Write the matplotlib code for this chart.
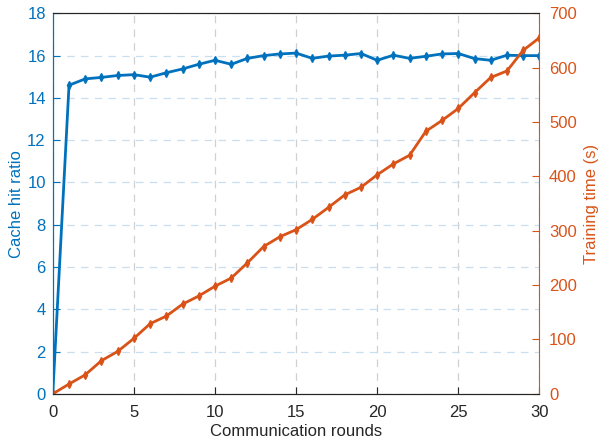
import matplotlib
matplotlib.use("Agg")
import matplotlib.pyplot as plt

plt.rcParams['font.family'] = ['Liberation Sans', 'DejaVu Sans']

rounds = list(range(31))
hit_ratio = [0, 14.6, 14.9, 14.97, 15.06, 15.1, 14.98, 15.19, 15.37, 15.59, 15.78,
             15.59, 15.87, 16.0, 16.08, 16.12, 15.87, 15.98, 16.02, 16.1, 15.78,
             16.02, 15.87, 15.97, 16.08, 16.1, 15.86, 15.78, 16.02, 16.0, 16.0]
train_time = [0, 18, 35, 61, 78, 102, 129, 143, 165, 180, 198,
              213, 241, 271, 289, 302, 321, 343, 366, 380, 403,
              423, 439, 483, 503, 525, 554, 582, 594, 632, 655]

blue = "#0072BD"
orange = "#D95319"

fig = plt.figure(figsize=(6, 4.45), dpi=100)
ax = fig.add_axes([0.088, 0.115, 0.811, 0.855])
ax2 = ax.twinx()

ax.plot(rounds, hit_ratio, color=blue, lw=2, marker="d", ms=4)
ax2.plot(rounds, train_time, color=orange, lw=2, marker="d", ms=4)

ax.set_xlim(0, 30)
ax.set_ylim(0, 18)
ax.set_yticks(range(0, 19, 2))
ax.set_xticks(range(0, 31, 5))
ax2.set_ylim(0, 700)
ax2.set_yticks(range(0, 701, 100))

# grids: vertical grey, horizontal light blue (from left axis)
ax.xaxis.grid(True, ls=(0, (6, 5)), color="#d0d0d0", lw=0.9)
ax.yaxis.grid(True, ls=(0, (6, 5)), color="#c8dff0", lw=0.9)
ax.set_axisbelow(True)

ax.set_xlabel("Communication rounds", fontsize=12, color="#262626", labelpad=3)
ax.set_ylabel("Cache hit ratio", fontsize=12, color=blue, labelpad=2)
ax2.set_ylabel("Training time (s)", fontsize=12, color=orange, labelpad=5)

ax.tick_params(axis="x", direction="in", labelsize=12, colors="#262626", length=5, pad=8)
ax.tick_params(axis="y", direction="in", labelsize=12, colors=blue, length=5, pad=5)
ax2.tick_params(axis="y", direction="in", labelsize=12, colors=orange, length=5, pad=7)

ax.spines["left"].set_color(blue)
ax2.spines["left"].set_color(blue)
ax2.spines["right"].set_color(orange)
ax.spines["right"].set_visible(False)
ax.spines["bottom"].set_color("#262626")
ax2.spines["bottom"].set_color("#262626")
ax2.spines["top"].set_color("#262626")
ax.spines["top"].set_color("#262626")

fig.savefig("out.png", dpi=100)
